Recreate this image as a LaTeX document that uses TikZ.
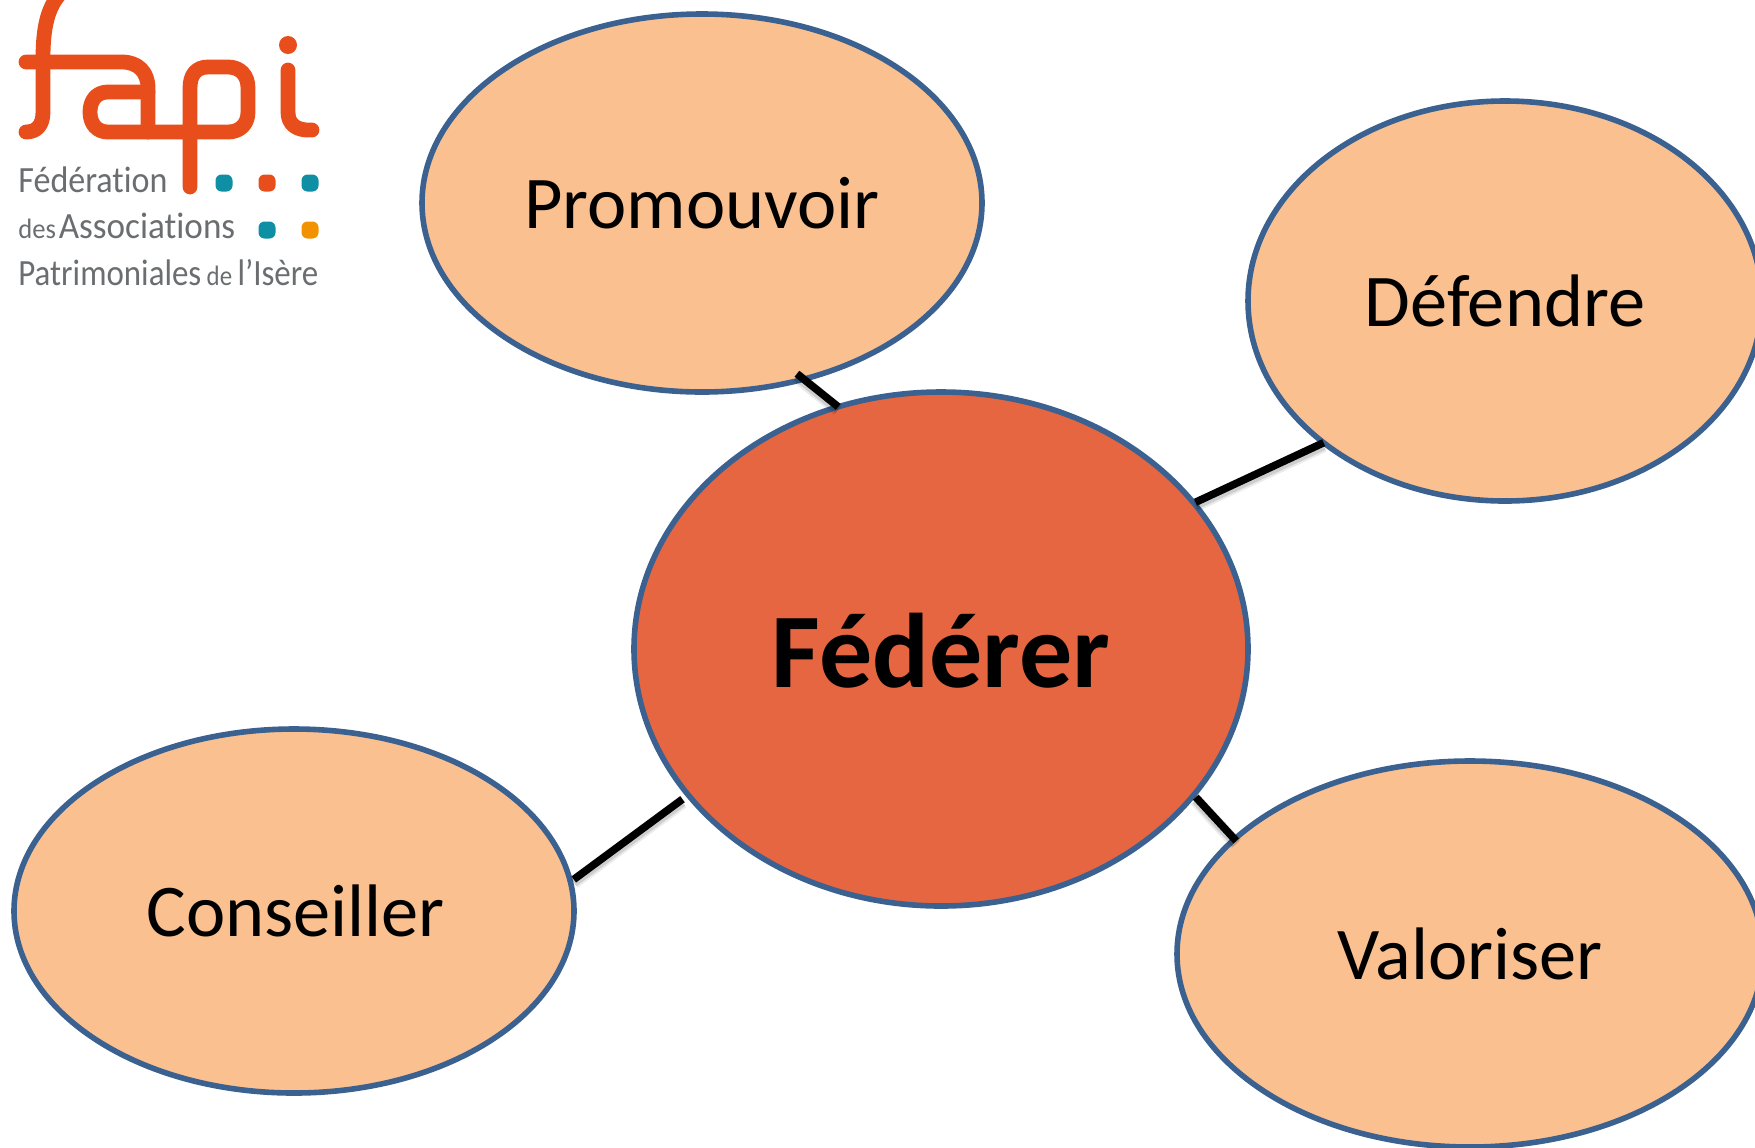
\documentclass[tikz,border=0pt]{standalone}
\usepackage{fontspec}
\setmainfont[Ligatures=NoCommon]{Carlito}
\usetikzlibrary{shapes.geometric}
\definecolor{ringblue}{HTML}{3B6191}
\definecolor{peach}{HTML}{FAC090}
\definecolor{hub}{HTML}{E66642}
\definecolor{logored}{HTML}{E84E1B}
\definecolor{logogrey}{HTML}{6B6E70}
\definecolor{logoteal}{HTML}{0E8FA3}
\definecolor{logoamber}{HTML}{F39200}
\tikzset{
  blob/.style={ellipse,draw=ringblue,line width=2.8pt,fill=peach,inner sep=0pt,outer sep=0pt,text=black,font=\fontsize{37.2}{40}\selectfont},
  hubblob/.style={blob,fill=hub,font=\fontsize{53}{56}\selectfont\bfseries},
  link/.style={draw=black,line width=3.8pt,
    preaction={draw=black,opacity=.08,line width=6.5pt,transform canvas={shift={(0pt,-1.5pt)}}},
    preaction={draw=black,opacity=.12,line width=4.5pt,transform canvas={shift={(0pt,-1.5pt)}}}},
  logostroke/.style={draw=logored,line width=7.4pt,line cap=round,line join=round},
  logotext/.style={text=logogrey,inner sep=0pt,anchor=base west},
  pip/.style={rounded corners=3pt,draw=none,minimum size=8.5pt,inner sep=0pt}
}
\newcommand{\bigsz}{\fontsize{18.5}{20}\selectfont}
\newcommand{\smallsz}{\fontsize{14}{20}\selectfont}
\begin{document}
\begin{tikzpicture}[x=0.5pt,y=-0.5pt]
\useasboundingbox (0,0) rectangle (1755,1147);
\fill[white] (0,0) rectangle (1755,1147);
\node[blob,minimum width=280pt,minimum height=189pt] (prom) at (702,203) {Promouvoir};
\node[blob,minimum width=257pt,minimum height=200pt] (def) at (1505,301) {Défendre};
\node[hubblob,minimum width=307pt,minimum height=257pt] (fed) at (941,649) {\raisebox{-1pt}[\height][\depth]{Fédérer}};
\node[blob,minimum width=280pt,minimum height=182pt] (cons) at (294,911) {\hspace{1.5pt}Conseiller};
\node[blob,minimum width=293pt,minimum height=193pt] (val) at (1470,954) {Valoriser};
\draw[link,shorten <=-4.3pt] (prom.-60.2) -- (fed.113.1);
\draw[link,shorten >=1pt] (def.218.0) -- (fed.30.5);
\draw[link,shorten <=3.6pt,shorten >=2.1pt] (fed.210.3) -- (cons.6.5);
\draw[link,shorten <=1.5pt,shorten >=-1.2pt] (fed.-30.3) -- (val.154);
% logo
\draw[logostroke] (60,-6) .. controls (47,8) and (43,30) .. (43,58) -- (43,112) .. controls (43,126) and (36,132) .. (26,132);
\draw[logostroke] (26,62) -- (122,62) .. controls (138,62) and (148,72) .. (148,88) -- (148,132);
\draw[logostroke] (148,92) -- (108,92) .. controls (96,92) and (90,101) .. (90,112) .. controls (90,124) and (97,132) .. (108,132) -- (228,132) .. controls (240,132) and (248,124) .. (248,112) -- (248,88) .. controls (248,75) and (240,67) .. (228,67) -- (208,67) .. controls (196,67) and (190,75) .. (190,88) -- (190,187);
\draw[logostroke] (288,70) -- (288,112) .. controls (288,124) and (296,131) .. (312,130);
\fill[logored] (288,45) circle (9);
\node[logotext] (l1) at (18,192) {\scalebox{.92}[1]{\bigsz Fédération}};
\node[logotext] (l2) at (18,238) {\scalebox{.95}[1]{\smallsz des\kern1.5pt\bigsz Associations}};
\node[logotext] (l3) at (18,285) {\scalebox{.89}[1]{\bigsz Patrimoniales\kern3pt\smallsz de\kern3pt\bigsz l’Isère}};
\node[pip,fill=logoteal] (p1) at (224,183) {};
\node[pip,fill=logored] (p2) at (267,183) {};
\node[pip,fill=logoteal] (p3) at (310,183) {};
\node[pip,fill=logoteal] (p4) at (267,230) {};
\node[pip,fill=logoamber] (p5) at (310,230) {};
\end{tikzpicture}
\end{document}
